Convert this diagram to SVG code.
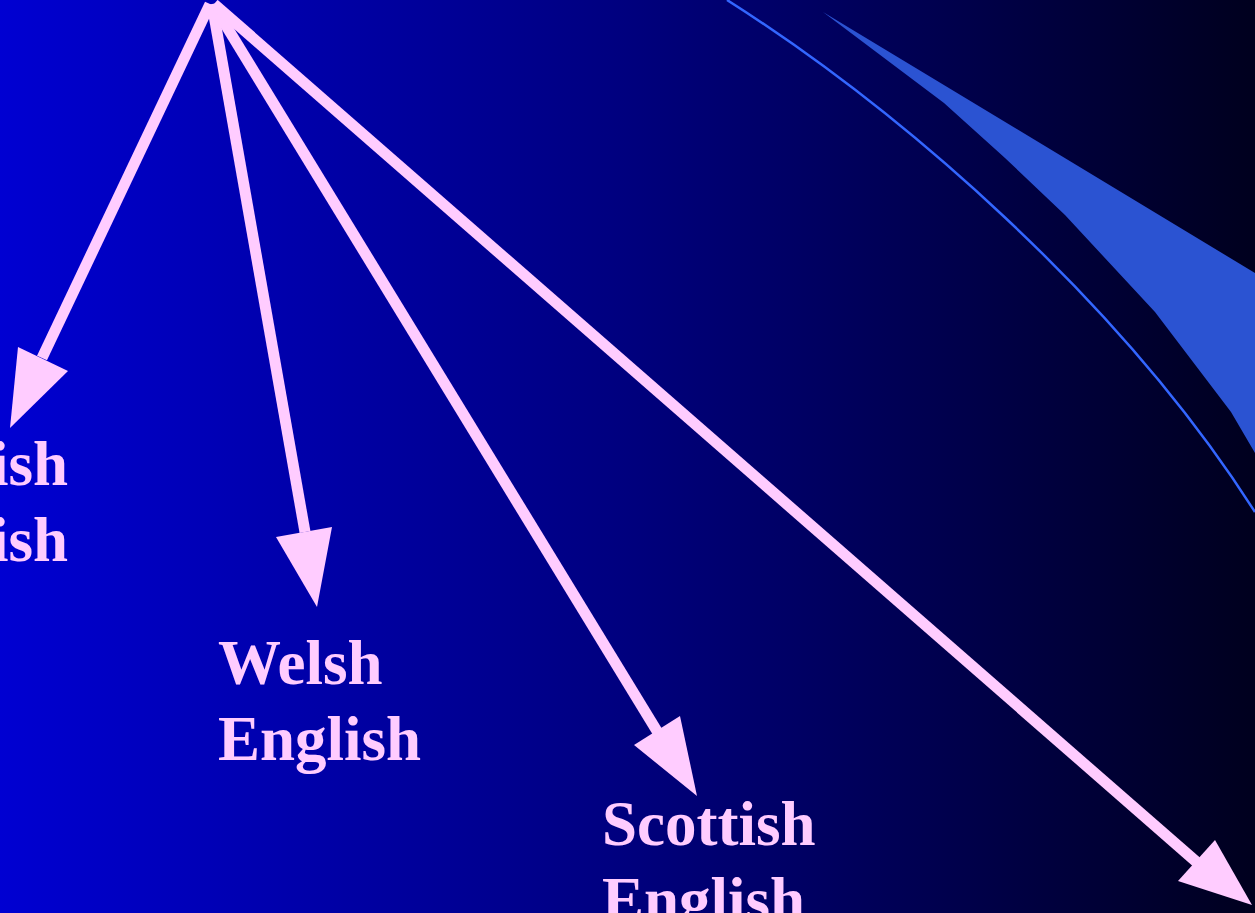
<svg xmlns="http://www.w3.org/2000/svg" width="1255" height="913" viewBox="0 0 1255 913">
<defs>
<linearGradient id="bg" x1="0" y1="0" x2="1" y2="0">
<stop offset="0" stop-color="#0000D2"/>
<stop offset="0.5" stop-color="#00007E"/>
<stop offset="1" stop-color="#00001E"/>
</linearGradient>
<style>
.shaft{stroke:#FFCCFF;stroke-width:11;fill:none;stroke-linecap:butt}
.head{fill:#FFCCFF}
.lbl{font-family:"Liberation Serif","Times New Roman",serif;font-weight:bold;font-size:63px;fill:#FFCCFF}
</style>
</defs>
<rect width="1255" height="913" fill="url(#bg)"/>
<g id="decor">
<path d="M727,0 C900,110 1120,300 1255,512" fill="none" stroke="#3366FF" stroke-width="2.5"/>
<polygon points="823,12 1255,273 1255,453 1231,412 1155,312 1065,215 1005,158 944,103" fill="#2B53D2"/>
</g>
<g id="connectors">
<line class="shaft" x1="210" y1="4" x2="42" y2="358"/>
<polygon class="head" points="18,347 68,371 10,428"/>
<line class="shaft" x1="212" y1="4" x2="305" y2="532"/>
<polygon class="head" points="276,537 332,527 317,607"/>
<line class="shaft" x1="214" y1="6" x2="660" y2="736"/>
<polygon class="head" points="634,745 680,716 697,796"/>
<line class="shaft" x1="214" y1="4" x2="1200" y2="865"/>
<polygon class="head" points="1178,881 1215,840 1252,905"/>
</g>
<g id="node-irish"><text class="lbl" x="-9" y="485">ish</text><text class="lbl" x="-9" y="561">ish</text></g>
<g id="node-welsh"><text class="lbl" x="218" y="684">Welsh</text><text class="lbl" x="218" y="760">English</text></g>
<g id="node-scottish"><text class="lbl" x="602" y="845">Scottish</text><text class="lbl" x="602" y="921">English</text></g>
</svg>
